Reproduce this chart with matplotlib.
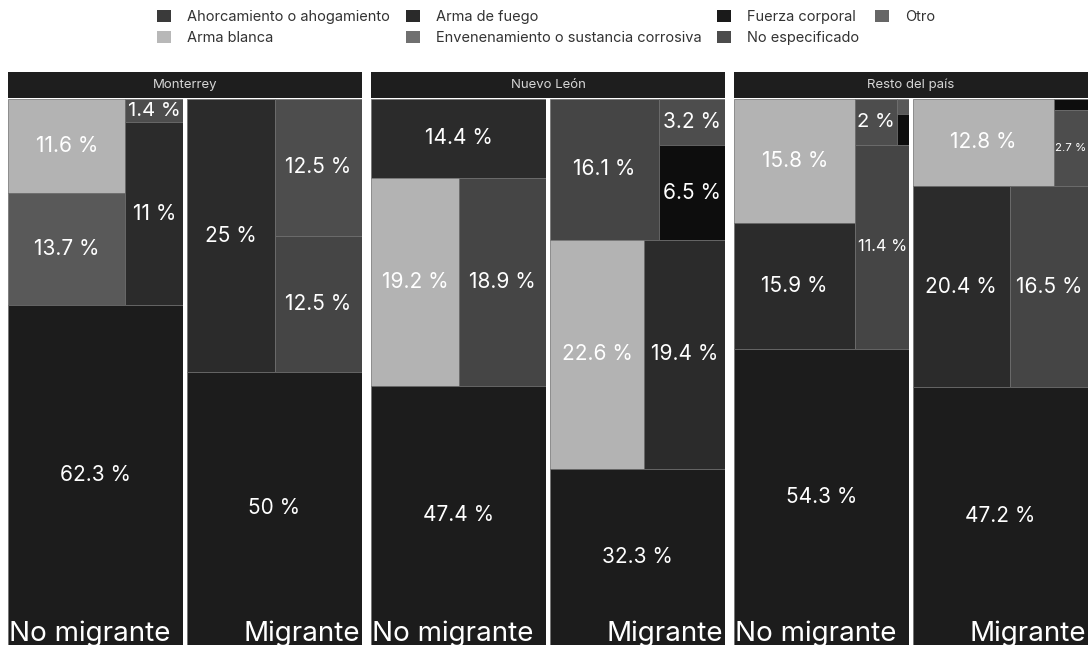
import matplotlib
matplotlib.use("Agg")
import matplotlib.pyplot as plt
from matplotlib.patches import Rectangle, Patch

plt.rcParams['font.family'] = ['Inter', 'DejaVu Sans']

AH = 'Ahorcamiento o ahogamiento'
AB = 'Arma blanca'
AF = 'Arma de fuego'
EN = 'Envenenamiento o sustancia corrosiva'
FC = 'Fuerza corporal'
NE = 'No especificado'
OT = 'Otro'

categorias = [AH, AB, AF, EN, FC, NE, OT]
colores = {AH: '#2b2b2b', AB: '#b3b3b3', AF: '#1c1c1c', EN: '#595959',
           FC: '#0d0d0d', NE: '#454545', OT: '#4d4d4d'}
colores_leyenda = {AH: '#3a3a3a', AB: '#b8b8b8', AF: '#2a2a2a', EN: '#707070',
                   FC: '#1a1a1a', NE: '#4c4c4c', OT: '#666666'}

paneles = ['Monterrey', 'Nuevo León', 'Resto del país']
grupos = ['No migrante', 'Migrante']

# porcentajes por panel y grupo
mty_no = {AF: 62.3, EN: 13.7, AB: 11.6, AH: 11.0, OT: 1.4}
mty_mi = {AF: 50.0, AH: 25.0, OT: 12.5, NE: 12.5}
nl_no = {AF: 47.4, AB: 19.2, NE: 18.9, AH: 14.4}
nl_mi = {AF: 32.3, AB: 22.6, AH: 19.4, NE: 16.1, FC: 6.5, OT: 3.2}
rp_no = {AF: 54.3, AH: 15.9, AB: 15.8, NE: 11.4, OT: 2.0, FC: 0.4, EN: 0.2}
rp_mi = {AF: 47.2, AH: 20.4, NE: 16.5, AB: 12.8, OT: 2.7, FC: 0.4}

# estructura del treemap: 'v' apila de arriba a abajo, 'h' de izquierda a derecha
lay_mty_no = ('v', [('h', [('v', [AB, EN]), ('v', [OT, AH])]), AF])
lay_mty_mi = ('v', [('h', [AH, ('v', [OT, NE])]), AF])
lay_nl_no = ('v', [AH, ('h', [AB, NE]), AF])
lay_nl_mi = ('v', [('h', [NE, ('v', [OT, FC])]), ('h', [AB, AH]), AF])
lay_rp_no = ('v', [('h', [('v', [AB, AH]), ('v', [('h', [OT, ('v', [EN, FC])]), NE])]), AF])
lay_rp_mi = ('v', [('h', [AB, ('v', [FC, OT])]), ('h', [AH, NE]), AF])

datos = [[(mty_no, lay_mty_no), (mty_mi, lay_mty_mi)],
         [(nl_no, lay_nl_no), (nl_mi, lay_nl_mi)],
         [(rp_no, lay_rp_no), (rp_mi, lay_rp_mi)]]


def total(node, vals):
    if isinstance(node, str):
        return vals[node]
    return sum(total(k, vals) for k in node[1])


def treemap(node, vals, x, y, w, h, out):
    if isinstance(node, str):
        out.append((node, x, y, w, h))
        return
    orient, kids = node
    t = total(node, vals)
    if orient == 'v':
        cur = y + h
        for k in kids:
            kh = h * total(k, vals) / t
            treemap(k, vals, x, cur - kh, w, kh, out)
            cur -= kh
    else:
        cur = x
        for k in kids:
            kw = w * total(k, vals) / t
            treemap(k, vals, cur, y, kw, h, out)
            cur += kw


W, H = 1090, 649
fig = plt.figure(figsize=(W / 100, H / 100), dpi=100)

panel_x = [8, 371, 734]
col_w, gap = 175, 4
top_px, bot_px = 99, 645
head_top, head_bot = 72, 98
fs_lab = 15

etiquetas = []
for p, nombre in enumerate(paneles):
    hx = panel_x[p]
    axh = fig.add_axes([hx / W, 1 - head_bot / H, (2 * col_w + gap) / W, (head_bot - head_top) / H])
    axh.set_facecolor('#1e1e1e')
    axh.set_xticks([])
    axh.set_yticks([])
    for s in axh.spines.values():
        s.set_visible(False)
    axh.text(0.5, 0.5, nombre, ha='center', va='center', color='#d6d6d6', fontsize=9.5,
             transform=axh.transAxes)

    for g in range(2):
        vals, lay = datos[p][g]
        x0 = hx + g * (col_w + gap)
        ax = fig.add_axes([x0 / W, 1 - bot_px / H, col_w / W, (bot_px - top_px) / H])
        ax.set_xlim(0, 1)
        ax.set_ylim(0, 1)
        ax.axis('off')
        rects = []
        treemap(lay, vals, 0, 0, 1, 1, rects)
        for cat, x, y, w, h in rects:
            ax.add_patch(Rectangle((x, y), w, h, facecolor=colores[cat],
                                   edgecolor='#6e6e6e', linewidth=0.5))
            v = vals[cat]
            if v < 1:
                continue
            txt = ('%g' % v) + ' %'
            t = ax.text(x + w / 2, y + h / 2, txt, ha='center', va='center',
                        color='white', fontsize=fs_lab)
            etiquetas.append((t, ax, w, h))
        if g == 0:
            ax.text(0.008, 0.007, grupos[g], ha='left', va='baseline', color='white',
                    fontsize=20, transform=ax.transAxes, clip_on=True)
        else:
            ax.text(0.99, 0.007, grupos[g], ha='right', va='baseline', color='white',
                    fontsize=20, transform=ax.transAxes, clip_on=True)

# reducir etiquetas que no caben en su rectangulo
fig.canvas.draw()
ren = fig.canvas.get_renderer()
for t, ax, w, h in etiquetas:
    bb = t.get_window_extent(ren)
    axbb = ax.get_window_extent(ren)
    rw = w * axbb.width * 0.92
    rh = h * axbb.height * 0.95
    f = min(1.0, rw / bb.width, rh / bb.height)
    if f < 1:
        t.set_fontsize(fs_lab * f)

handles = [Patch(facecolor=colores_leyenda[c], edgecolor='none', label=c) for c in categorias]
fig.legend(handles=handles, loc='upper left', bbox_to_anchor=(157 / W, 1 - 10 / H), ncol=4,
           frameon=False, fontsize=10.5, handlelength=0.95, handleheight=0.9,
           borderpad=0, borderaxespad=0,
           columnspacing=1.1, handletextpad=1.1, labelspacing=0.5, labelcolor='#333333')

fig.savefig('out.png', dpi=100, facecolor='white')
